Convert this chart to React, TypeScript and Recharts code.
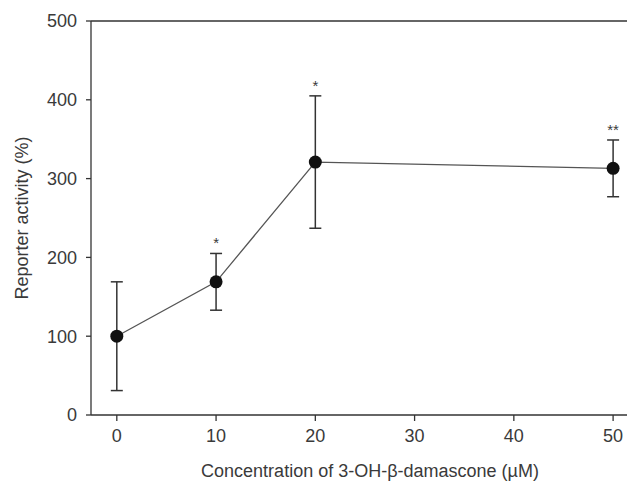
import {
  ComposedChart,
  Line,
  Scatter,
  XAxis,
  YAxis,
  ErrorBar,
  ReferenceLine,
  Label,
} from "recharts";

const conc = [0, 10, 20, 50];
const activity = [100, 169, 321, 313];
const sem = [69, 36, 84, 36];
const marks = ["", "*", "*", "**"];
const xTicks = [0, 10, 20, 30, 40, 50];
const yTicks = [0, 100, 200, 300, 400, 500];

const AXIS = "#333";
const TEXT = "#3a3a3a";
const FONT = "'Liberation Sans', Arial, sans-serif";

const data = conc.map((x, i) => ({
  x,
  y: activity[i],
  err: sem[i],
}));

const starData = conc
  .map((x, i) => ({ x, top: activity[i] + sem[i], mark: marks[i] }))
  .filter((d) => d.mark !== "");

const Dot = (props: any) => {
  const { cx, cy } = props;
  if (cx == null || cy == null) return null;
  return <circle cx={cx} cy={cy} r={6.5} fill="#111" />;
};

const Star = (props: any) => {
  const { cx, cy, payload } = props;
  return (
    <text
      x={cx}
      y={cy - 5}
      textAnchor="middle"
      fontSize={15}
      fill={TEXT}
      fontFamily={FONT}
    >
      {payload.mark}
    </text>
  );
};

export default function App() {
  return (
    <div style={{ position: "absolute", left: 0, top: 0, width: 627, height: 485, overflow: "hidden", background: "#fff" }}>
      <ComposedChart
        width={627}
        height={485}
        data={data}
        margin={{ top: 21, right: 0, left: 0, bottom: 20 }}
        style={{ fontFamily: FONT }}
      >
        <XAxis
          dataKey="x"
          type="number"
          domain={[-2.6, 51.4]}
          ticks={xTicks}
          allowDataOverflow
          height={50}
          tickSize={6}
          tickMargin={8}
          stroke={AXIS}
          strokeWidth={1.3}
          tick={{ fill: TEXT, fontSize: 18 }}
        >
          <Label
            value="Concentration of 3-OH-β-damascone (µM)"
            position="insideBottom"
            offset={-12}
            dx={11}
            fill={TEXT}
            fontSize={18}
          />
        </XAxis>
        <YAxis
          type="number"
          domain={[0, 500]}
          ticks={yTicks}
          allowDataOverflow
          width={91}
          tickSize={5}
          tickMargin={9}
          stroke={AXIS}
          strokeWidth={1.3}
          tick={{ fill: TEXT, fontSize: 18 }}
        >
          <Label
            value="Reporter activity (%)"
            angle={-90}
            position="insideLeft"
            offset={22}
            fill={TEXT}
            fontSize={18}
            style={{ textAnchor: "middle" }}
          />
        </YAxis>
        <ReferenceLine y={500} stroke={AXIS} strokeWidth={1.3} />
        <Line
          dataKey="y"
          stroke="#555"
          strokeWidth={1.3}
          dot={<Dot />}
          activeDot={false}
          isAnimationActive={false}
        >
          <ErrorBar dataKey="err" width={6} stroke="#333" strokeWidth={1.5} direction="y" />
        </Line>
        <Scatter
          data={starData}
          dataKey="top"
          shape={<Star />}
          isAnimationActive={false}
        />
      </ComposedChart>
    </div>
  );
}
